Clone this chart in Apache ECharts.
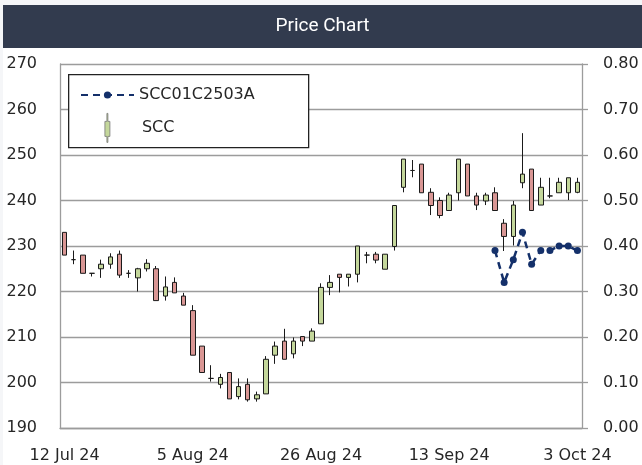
<!DOCTYPE html>
<html lang="en">
<head>
<meta charset="UTF-8">
<title>Price Chart</title>
<script src="https://cdn.jsdelivr.net/npm/echarts@6/dist/echarts.min.js"></script>
<style>
  *{margin:0;padding:0}
  html,body{width:100%;height:100%;background:#f5f6f8;overflow:hidden}
  #main{position:absolute;left:3px;top:5px;width:639px;height:460px;background:#fff}
</style>
</head>
<body>
<div id="main"></div>
<script>
// trading days (SET), 12 Jul 24 - 3 Oct 24
var dates = [
  '12 Jul 24','15 Jul 24','16 Jul 24','17 Jul 24','18 Jul 24','19 Jul 24',
  '23 Jul 24','24 Jul 24','25 Jul 24','26 Jul 24','30 Jul 24','31 Jul 24',
  '1 Aug 24','2 Aug 24','5 Aug 24','6 Aug 24','7 Aug 24','8 Aug 24','9 Aug 24',
  '13 Aug 24','14 Aug 24','15 Aug 24','16 Aug 24',
  '19 Aug 24','20 Aug 24','21 Aug 24','22 Aug 24','23 Aug 24',
  '26 Aug 24','27 Aug 24','28 Aug 24','29 Aug 24','30 Aug 24',
  '2 Sep 24','3 Sep 24','4 Sep 24','5 Sep 24','6 Sep 24',
  '9 Sep 24','10 Sep 24','11 Sep 24','12 Sep 24','13 Sep 24',
  '16 Sep 24','17 Sep 24','18 Sep 24','19 Sep 24','20 Sep 24',
  '23 Sep 24','24 Sep 24','25 Sep 24','26 Sep 24','27 Sep 24',
  '30 Sep 24','1 Oct 24','2 Oct 24','3 Oct 24'
];

// SCC: [open, close, low, high]
var sccOHLC = [
  [233, 228, 228, 233], [227, 227, 226, 229], [228, 224, 224, 228], [224, 224, 223.3, 224],
  [225, 226, 223, 227], [226, 227.6, 225, 228.4], [228.2, 223.6, 223, 229], [224, 224, 223, 224.7],
  [223, 225, 220, 225.2], [225, 226.2, 224.4, 227.1], [225, 218, 218, 225.6], [219, 221, 218, 223.3],
  [222, 219.7, 219.7, 223.1], [219, 217, 217, 219.7], [215.8, 206, 206, 217], [208, 202.2, 202.2, 208],
  [200.9, 200.9, 200.2, 203.8], [199.6, 201.1, 198.7, 201.9], [202.2, 196.4, 196.4, 202.2], [196.9, 199.1, 196.3, 200.9],
  [199.6, 196.2, 195.8, 200.9], [196.4, 197.3, 195.8, 198], [197.5, 205.1, 197.5, 205.8], [206, 208, 204.1, 209],
  [209.1, 205.1, 205.1, 211.8], [206.3, 209.1, 205.3, 209.9], [210.1, 209.1, 208, 210.1], [209.1, 211.3, 209.1, 211.9],
  [212.9, 220.9, 212.9, 221.8], [220.9, 222, 219.2, 223.6], [223.8, 223.1, 219.8, 223.8], [223.1, 223.8, 221.1, 223.8],
  [223.8, 230, 222, 230], [228, 228, 226.2, 228.7], [228.2, 226.9, 226.2, 228.7], [224.9, 228.2, 224.9, 228.2],
  [229.9, 238.9, 229, 238.9], [242.9, 249.1, 241.8, 249.1], [246.6, 246.6, 245.1, 248.9], [248, 241.7, 241.7, 248],
  [241.8, 238.9, 236.8, 242.7], [240, 236.7, 236.1, 240.7], [237.8, 241.2, 237.8, 241.7], [241.7, 249.1, 240, 249.1],
  [248, 241, 241, 248], [241, 239, 237.9, 241.7], [239.9, 241.2, 239, 241.7], [241.7, 237.8, 237.8, 242.9],
  [235, 232.1, 228.9, 235.9], [232.1, 239, 230.1, 239.9], [243.9, 245.8, 242.7, 254.8], [246.9, 237.8, 237.8, 246.9],
  [239, 242.9, 239, 245], [241, 241, 240.5, 245], [241.7, 244, 241.7, 245], [241.7, 245, 240.1, 245],
  [241.8, 244, 241.6, 245]
];

// SCC01C2503A warrant (right axis)
var warrantDates = ['20 Sep 24','23 Sep 24','24 Sep 24','25 Sep 24','26 Sep 24','27 Sep 24','30 Sep 24','1 Oct 24','2 Oct 24','3 Oct 24'];
var warrantValues = [0.39, 0.32, 0.37, 0.43, 0.36, 0.39, 0.39, 0.40, 0.40, 0.39];

var leftTicks = { min: 190, max: 270, interval: 10 };
var rightTicks = { min: 0, max: 0.8, interval: 0.1 };

var gridGray = '#9c9c9c';
var textColor = '#262626';
var font = 'DejaVu Sans';
var candlePath = 'path://M2,0h1v8h2v15h-2v6h-1v-6h-2v-15h2z';

var chart = echarts.init(document.getElementById('main'));

var option = {
  backgroundColor: '#fff',
  animation: false,
  title: {
    text: 'Price Chart',
    left: 'center',
    top: 11,
    padding: 0,
    textStyle: { color: '#fff', fontFamily: 'Roboto', fontSize: 19, fontWeight: 'normal', lineHeight: 21 }
  },
  graphic: [
    { type: 'rect', left: 0, top: 0, z: -1, shape: { width: 639, height: 43 }, style: { fill: '#323b4e' } },
    { type: 'rect', left: 65, top: 69, z: 10, shape: { width: 240, height: 73 },
      style: { fill: '#fff', stroke: '#222', lineWidth: 1.3 } }
  ],
  legend: [
    {
      data: ['SCC01C2503A'],
      left: 77, top: 82, z: 20, padding: 0,
      itemWidth: 53, itemHeight: 9, itemGap: 8,
      textStyle: { fontFamily: font, fontSize: 16, color: textColor }
    },
    {
      data: [{ name: 'SCC', icon: candlePath, itemStyle: { color: '#c4d79b', borderColor: '#777', borderWidth: 0.8 } }],
      left: 101.5, top: 108, z: 20, padding: 0,
      itemWidth: 5, itemHeight: 29, itemGap: 8,
      textStyle: { fontFamily: font, fontSize: 16, color: textColor, padding: [0, 0, 0, 27] }
    }
  ],
  grid: { left: 57, right: 60, top: 59, bottom: 37 },
  xAxis: {
    type: 'category',
    data: dates,
    boundaryGap: true,
    axisLine: { lineStyle: { color: gridGray, width: 1.3 } },
    axisTick: { show: false },
    axisLabel: { interval: 13, margin: 20, fontFamily: font, fontSize: 16, color: textColor },
    splitLine: { show: false }
  },
  yAxis: [
    {
      type: 'value',
      min: leftTicks.min, max: leftTicks.max, interval: leftTicks.interval,
      axisLine: { show: true, lineStyle: { color: gridGray, width: 1.3 } },
      axisTick: { show: false },
      axisLabel: { margin: 23, fontFamily: font, fontSize: 16, color: textColor, padding: [0, 0, 7, 0] },
      splitLine: { show: true, lineStyle: { color: gridGray, width: 1.3 } }
    },
    {
      type: 'value',
      position: 'right',
      min: rightTicks.min, max: rightTicks.max, interval: rightTicks.interval,
      axisLine: { show: true, lineStyle: { color: gridGray, width: 1.3 } },
      axisTick: { show: true, length: 6, lineStyle: { color: gridGray, width: 1.3 } },
      axisLabel: {
        margin: 21, fontFamily: font, fontSize: 16, color: textColor, padding: [0, 0, 7, 0],
        formatter: function (v) { return v.toFixed(2); }
      },
      splitLine: { show: false }
    }
  ],
  series: [
    {
      name: 'SCC',
      type: 'candlestick',
      data: sccOHLC,
      barWidth: 5,
      itemStyle: {
        color: '#c4d79b',
        color0: '#d99694',
        borderColor: '#1a1a1a',
        borderColor0: '#1a1a1a',
        borderColorDoji: '#1a1a1a',
        borderWidth: 1
      }
    },
    {
      name: 'SCC01C2503A',
      type: 'line',
      yAxisIndex: 1,
      z: 5,
      data: warrantDates.map(function (d, i) { return [d, warrantValues[i]]; }),
      symbol: 'circle',
      symbolSize: 7,
      showSymbol: true,
      showAllSymbol: true,
      itemStyle: { color: '#14306a' },
      lineStyle: { color: '#14306a', width: 2.5, type: [7, 5] }
    }
  ]
};

chart.setOption(option);
</script>
</body>
</html>
